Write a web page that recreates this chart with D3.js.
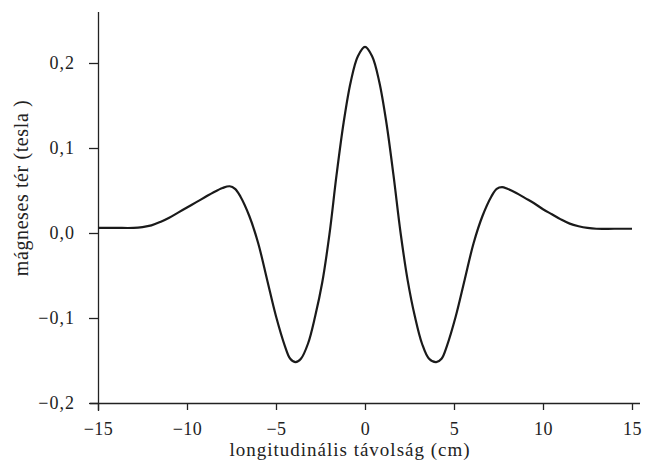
<!DOCTYPE html>
<html>
<head>
<meta charset="utf-8">
<script src="https://cdn.jsdelivr.net/npm/d3@7"></script>
<style>
  body { margin: 0; background: #fff; }
</style>
</head>
<body>
<div id="chart"></div>
<script>
// Données
const xPos = [-15, -14, -13, -12.5, -12, -11.5, -11, -10.5, -10, -9.5, -9, -8.5, -8, -7.6, -7.3, -7, -6.5, -6, -5.5, -5, -4.5, -4.2, -3.9, -3.6, -3.2, -2.8, -2.4, -2, -1.6, -1.2, -0.8, -0.4, 0,
  0.4, 0.8, 1.2, 1.6, 2, 2.4, 2.8, 3.2, 3.6, 4, 4.3, 4.6, 5.1, 5.6, 6.1, 6.6, 7.1, 7.4, 7.7, 8, 8.5, 9, 9.5, 10, 10.5, 11, 11.5, 12, 12.5, 13, 14, 15];
const champ = [0.006, 0.006, 0.006, 0.007, 0.009, 0.013, 0.018, 0.024, 0.030, 0.036, 0.042, 0.048, 0.053, 0.055, 0.052, 0.043, 0.020, -0.012, -0.055, -0.098, -0.133, -0.148, -0.152, -0.148, -0.130, -0.098, -0.058, -0.002, 0.068, 0.130, 0.178, 0.208, 0.219,
  0.208, 0.178, 0.130, 0.068, 0.000, -0.056, -0.098, -0.130, -0.148, -0.152, -0.148, -0.133, -0.098, -0.055, -0.012, 0.020, 0.043, 0.052, 0.054, 0.052, 0.047, 0.041, 0.035, 0.028, 0.022, 0.016, 0.011, 0.008, 0.006, 0.005, 0.005, 0.005];
const xTicks = [-15, -10, -5, 0, 5, 10, 15];
const yTicks = [-0.2, -0.1, 0, 0.1, 0.2];

const data = xPos.map((x, i) => ({ x: x, y: champ[i] }));

const W = 651, H = 461;
const FONT = "'Liberation Serif', 'DejaVu Serif', serif";

const svg = d3.select("#chart").append("svg")
  .attr("width", W)
  .attr("height", H);

// Échelles
const xScale = d3.scaleLinear().domain([-15, 15]).range([98, 632]);
const yScale = d3.scaleLinear().domain([-0.2, 0.2]).range([403, 63]);

const fmt = d => (d < 0 ? "\u2212" : "") + Math.abs(d).toFixed(1).replace(".", ",");

// Axe X
const gx = svg.append("g")
  .attr("transform", `translate(0,403)`)
  .call(d3.axisBottom(xScale).tickValues(xTicks).tickSizeInner(7).tickSizeOuter(0).tickPadding(5)
    .tickFormat(d => (d < 0 ? "\u2212" : "") + Math.abs(d)));
gx.attr("font-family", FONT);
gx.select(".domain").attr("d", "M90,0.5H640").attr("stroke", "#222").attr("stroke-width", 1.3);
gx.selectAll(".tick line").attr("stroke", "#222").attr("stroke-width", 1.3);
gx.selectAll(".tick text")
  .attr("dy", "1.1em")
  .style("font-family", FONT).style("font-size", "18px").style("letter-spacing", "0.5px").style("fill", "#222");

// Axe Y
const gy = svg.append("g")
  .attr("transform", `translate(98,0)`)
  .call(d3.axisLeft(yScale).tickValues(yTicks).tickSizeInner(9).tickSizeOuter(0).tickPadding(14).tickFormat(fmt));
gy.attr("font-family", FONT);
gy.select(".domain").attr("d", "M0.5,12V411").attr("stroke", "#222").attr("stroke-width", 1.3);
gy.selectAll(".tick line").attr("stroke", "#222").attr("stroke-width", 1.3);
gy.selectAll(".tick text")
  .style("font-family", FONT).style("font-size", "18px").style("letter-spacing", "1px").style("fill", "#222");

// Courbe
const line = d3.line()
  .x(d => xScale(d.x))
  .y(d => yScale(d.y))
  .curve(d3.curveCatmullRom.alpha(0.5));

svg.append("path")
  .datum(data)
  .attr("d", line)
  .style("fill", "none")
  .style("stroke", "#1a1a1a")
  .style("stroke-width", 2.2);

// Titres des axes
svg.append("text")
  .attr("x", 350)
  .attr("y", 456)
  .attr("text-anchor", "middle")
  .style("font-family", FONT)
  .style("font-size", "19px")
  .style("letter-spacing", "1px")
  .style("fill", "#222")
  .text("longitudinális távolság (cm)");

svg.append("text")
  .attr("transform", "rotate(-90)")
  .attr("x", -188)
  .attr("y", 28)
  .attr("text-anchor", "middle")
  .style("font-family", FONT)
  .style("font-size", "20px")
  .style("letter-spacing", "0.6px")
  .style("fill", "#222")
  .text("mágneses tér (tesla )");
</script>
</body>
</html>
